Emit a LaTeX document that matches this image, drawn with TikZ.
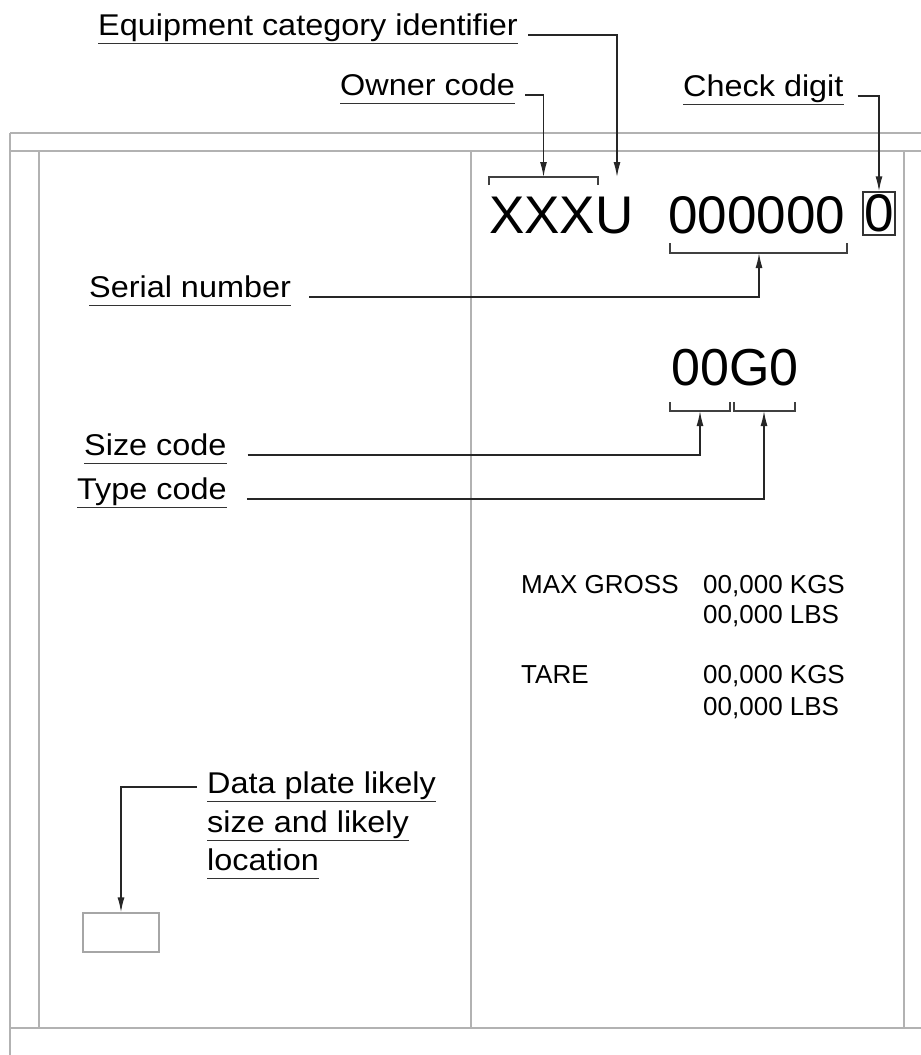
\documentclass[tikz,border=0pt]{standalone}
\usepackage{fontspec}
\setmainfont{Liberation Sans}
\newfontfamily\lblfont{Liberation Sans}[FakeStretch=1.08]
\usetikzlibrary{arrows.meta}

\begin{document}
\begin{tikzpicture}[x=1pt,y=-1pt,
	lbl/.style={font=\lblfont\fontsize{30}{36}\selectfont, inner sep=0pt, text depth=8pt, anchor=base west},
	big/.style={font=\fontsize{53}{60}\selectfont, inner sep=0pt, anchor=base west},
	wt/.style={font=\fontsize{26}{30}\selectfont, inner sep=0pt, anchor=base west},
	frame/.style={draw=black!30, line width=1.6pt},
	lead/.style={draw=black!85, line width=1.4pt},
	arr/.style={lead, -{Latex[length=15pt,width=7pt]}},
	brk/.style={draw=black!75, line width=1.4pt},
	uline/.style={draw=black!80, line width=1.4pt}]
	\useasboundingbox (0,0) rectangle (921,1055);
%
	% panel outline
	\draw[frame] (10,133) -- (921,133);
	\draw[frame] (10,151) -- (921,151);
	\draw[frame] (10,1028) -- (921,1028);
	\draw[frame] (10,133) -- (10,1055);
	\draw[frame] (39,151) -- (39,1028);
	\draw[frame] (471,151) -- (471,1028);
	\draw[frame] (904,151) -- (904,1028);
%
	% labels
	\node[lbl] (eci) at (98,35) {Equipment category identifier};
	\node[lbl] (own) at (340,95) {Owner code};
	\node[lbl] (chk) at (683,96) {Check digit};
	\node[lbl] (ser) at (89,297) {Serial number};
	\node[lbl] (siz) at (84,455) {Size code};
	\node[lbl] (typ) at (77,499) {Type code};
	\node[lbl] (dp1) at (207,793) {Data plate likely};
	\node[lbl] (dp2) at (207,832) {size and likely};
	\node[lbl] (dp3) at (207,870) {location};
	\foreach \n in {eci,own,chk,ser,siz,typ,dp1,dp2,dp3}
		\draw[uline] (\n.south west) -- (\n.south east);
%
	% marking
	\node[big] (own code) at (489,233) {XXXU};
	\node[big] (serial) at (668,233) {000000};
	\node[font=\fontsize{53}{60}\selectfont, draw=black!80, line width=1.4pt,
		inner sep=0pt, minimum width=32pt, minimum height=43pt] (chkd) at (879,213.5) {0};
	\node[font=\fontsize{52}{60}\selectfont, inner sep=0pt, anchor=base west] (sztp) at (671,385) {00G0};
%
	\draw[brk] (489,185) |- (598,177) -- (598,185);
	\draw[brk] (670,243) |- (847,253) -- (847,243);
	\draw[brk] (670,402) |- (730,411) -- (730,402);
	\draw[brk] (734,402) |- (795,411) -- (795,402);
%
	\coordinate (owntip) at (543.5,177);
	\coordinate (ecitip) at (617,177);
	\coordinate (sertip) at (759,253);
	\coordinate (siztip) at (700,411);
	\coordinate (typtip) at (764,411);
%
	% weights
	\node[wt] (mg) at (521,593) {MAX GROSS};
	\node[wt] (mgk) at (703,593) {00,000 KGS};
	\node[wt] (mgl) at (703,623) {00,000 LBS};
	\node[wt] (ta) at (521,683) {TARE};
	\node[wt] (tak) at (703,683) {00,000 KGS};
	\node[wt] (tal) at (703,715) {00,000 LBS};
%
	% data plate
	\node[draw=black!35, line width=1.3pt, inner sep=0pt,
		minimum width=76pt, minimum height=39pt] (plate) at (121,932.5) {};
%
	% leaders
	\draw[arr] ([xshift=10pt]eci.base east) -| (ecitip);
	\draw[arr] ([xshift=10pt]own.base east) -| (owntip);
	\draw[arr] ([xshift=14pt]chk.base east) -| (chkd.north);
	\draw[arr] ([xshift=18pt]ser.base east) -| (sertip);
	\draw[arr] ([xshift=21pt]siz.base east) -| (siztip);
	\draw[arr] ([xshift=20pt]typ.base east) -| (typtip);
	\draw[arr] ([xshift=-10pt,yshift=6pt]dp1.base west) -| (plate.north);
\end{tikzpicture}
\end{document}
